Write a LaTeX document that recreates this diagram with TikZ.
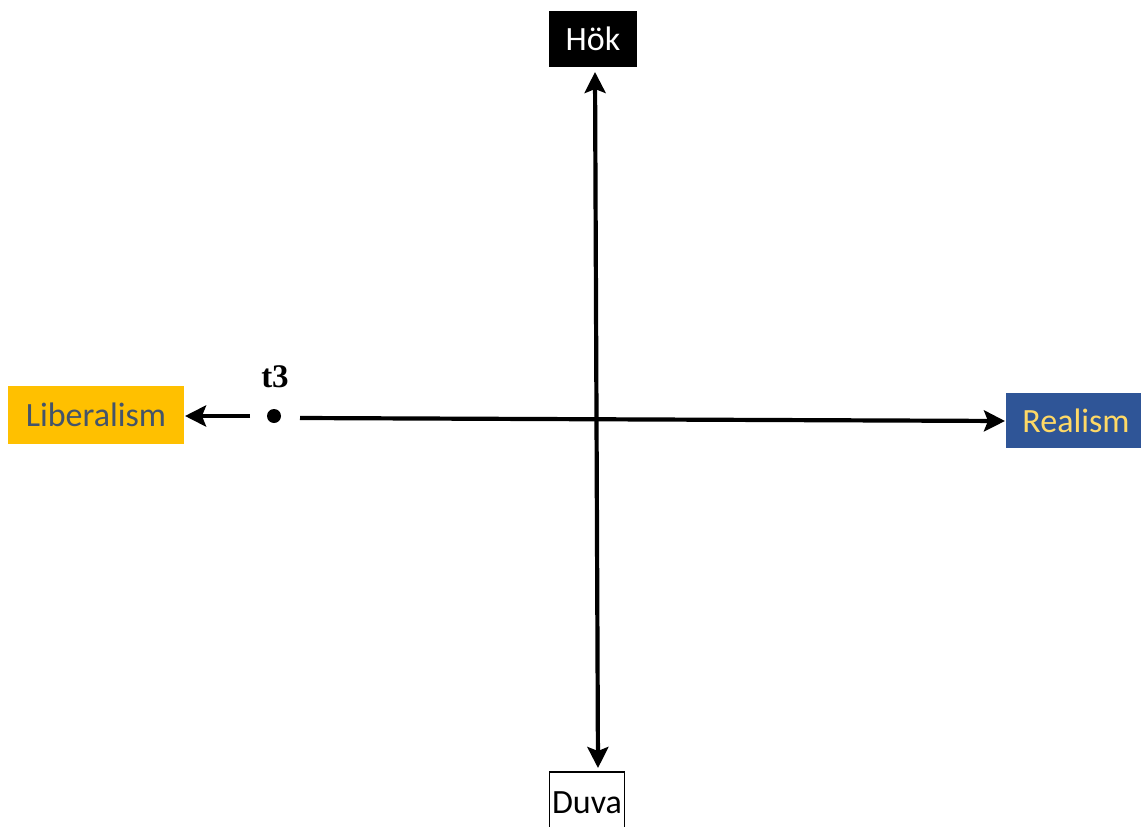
\documentclass[tikz,border=0pt]{standalone}
\usepackage{fontspec}
\setmainfont{Carlito}
\newfontfamily\tnr{Liberation Serif}
\usetikzlibrary{arrows.meta}
\definecolor{libfill}{HTML}{FFC000}
\definecolor{libtext}{HTML}{44546A}
\definecolor{realfill}{HTML}{2F5597}
\definecolor{realtext}{HTML}{FFD966}
\tikzset{
  lbl/.style={font=\fontsize{34}{40}\selectfont, inner sep=0pt, anchor=center},
  axis/.style={line width=4.2pt, -{Stealth[length=21pt,width=21pt,inset=4pt]}},
}
\begin{document}
\begin{tikzpicture}[x=1pt,y=-1pt]
\useasboundingbox (0,0) rectangle (1141,827);
\clip (0,0) rectangle (1141,827);
\fill[white] (0,0) rectangle (1141,827);
% boxes
\node[lbl, fill=libfill, text=libtext, minimum width=176pt, minimum height=58pt] (lib) at (96,415) {Liberalism};
\node[lbl, fill=realfill, text=realtext, minimum width=140pt, minimum height=55pt] (real) at (1076,420.5) {Realism};
\node[lbl, fill=black, text=white, minimum width=88pt, minimum height=56pt] (hok) at (593,39) {Hök};
\node[lbl, draw=black, line width=1.2pt, fill=white, text=black, minimum width=75pt, minimum height=62pt] (duva) at (587,803) {Duva};
% axes
\coordinate (vtop) at (595,72);
\coordinate (vbot) at (598,768);
\coordinate (cen) at (596.5,418);
\draw[axis] (cen) -- (vtop);
\draw[axis] (cen) -- (vbot);
\coordinate (hstart) at (300,418);
\coordinate (hend) at (1005,421);
\draw[axis] (hstart) -- (hend);
\coordinate (lstart) at (250,416);
\coordinate (lend) at (185,416);
\draw[axis] (lstart) -- (lend);
% t3 point
\node[circle, fill=black, inner sep=0pt, minimum size=14pt] (dot) at (274,416) {};
\node[font=\tnr\bfseries\fontsize{33}{36}\selectfont, inner sep=0pt, anchor=base] (t3) at (275,387) {t3};
\end{tikzpicture}
\end{document}
